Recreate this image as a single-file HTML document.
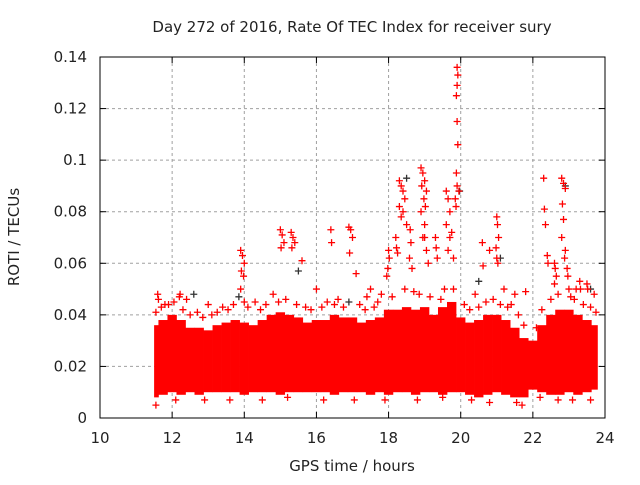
<!DOCTYPE html>
<html><head><meta charset="utf-8"><style>
body{margin:0;background:#fff}
svg text{font-family:"DejaVu Sans","Liberation Sans",sans-serif;fill:#222}
</style></head><body>
<svg id="c" width="640" height="480" xmlns="http://www.w3.org/2000/svg"></svg>
<script>
const xTicks=[10,12,14,16,18,20,22,24];
const yTicks=[0,0.02,0.04,0.06,0.08,0.1,0.12,0.14];
const yTickLabels=["0","0.02","0.04","0.06","0.08","0.1","0.12","0.14"];
const binTimes=[11.5,11.75,12,12.25,12.5,12.75,13,13.25,13.5,13.75,14,14.25,14.5,14.75,15,15.25,15.5,15.75,16,16.25,16.5,16.75,17,17.25,17.5,17.75,18,18.25,18.5,18.75,19,19.25,19.5,19.75,20,20.25,20.5,20.75,21,21.25,21.5,21.75,22,22.25,22.5,22.75,23,23.25,23.5,23.75];
const binHigh=[0.036,0.038,0.04,0.038,0.035,0.035,0.034,0.036,0.037,0.038,0.037,0.036,0.038,0.04,0.041,0.04,0.039,0.037,0.038,0.038,0.04,0.039,0.039,0.037,0.038,0.039,0.042,0.042,0.043,0.042,0.043,0.04,0.043,0.045,0.039,0.037,0.038,0.04,0.04,0.038,0.035,0.031,0.03,0.036,0.04,0.042,0.042,0.04,0.038,0.036];
const binLow=[0.008,0.009,0.01,0.009,0.01,0.009,0.01,0.01,0.01,0.01,0.009,0.01,0.01,0.01,0.009,0.01,0.01,0.01,0.01,0.01,0.009,0.01,0.01,0.01,0.009,0.01,0.009,0.01,0.01,0.009,0.01,0.01,0.009,0.01,0.01,0.009,0.008,0.009,0.01,0.009,0.008,0.008,0.011,0.01,0.009,0.009,0.01,0.009,0.01,0.011];
const ptTimes=[19.9,19.92,19.9,19.88,19.9,19.92,19.88,19.9,19.95,19.85,19.87,
18.3,18.35,18.4,18.45,18.3,18.4,18.35,18.5,
18.9,18.95,19.0,18.92,19.05,18.98,19.02,18.9,19.0,18.95,
19.6,19.65,19.7,19.6,19.75,19.7,19.65,19.8,
22.3,22.32,22.35,22.8,22.85,22.9,22.82,22.85,22.8,22.9,22.88,
13.9,13.95,14.0,13.92,13.98,13.9,14.0,
15.0,15.05,15.1,15.02,15.3,15.35,15.4,15.32,15.6,16.4,16.42,16.9,16.95,17.0,16.92,17.1,17.5,
18.0,18.02,17.98,17.95,18.2,18.22,18.25,18.6,18.62,18.58,18.65,19.3,19.32,19.35,19.0,19.05,19.1,
20.6,20.62,20.8,21.0,21.02,21.05,20.98,21.0,21.03,21.2,21.5,21.8,
22.4,22.42,22.6,22.62,22.65,22.6,22.95,22.97,23.0,23.3,23.32,23.5,23.52,23.7,
11.6,11.62,11.8,12.2,12.22,12.4,13.0,13.4,14.3,14.8,16.0,16.6,17.4,17.8,20.4,21.4,23.2,
11.55,11.7,11.9,12.05,12.3,12.5,12.7,12.85,13.1,13.25,13.55,13.7,14.1,14.45,14.6,14.95,15.15,15.45,15.7,15.85,16.15,16.3,16.5,16.75,17.2,17.35,17.6,17.7,18.1,18.45,18.7,18.85,19.15,19.45,19.55,19.8,20.1,20.25,20.5,20.7,20.9,21.1,21.3,21.6,21.75,22.1,22.25,22.5,22.7,23.05,23.15,23.4,23.6,23.75,
11.55,12.1,12.9,13.6,14.5,15.2,16.2,17.05,17.9,18.8,19.5,20.3,20.8,21.55,21.7,22.2,22.7,23.1,23.6];
const ptValues=[0.136,0.133,0.129,0.125,0.115,0.106,0.095,0.09,0.088,0.085,0.082,
0.092,0.09,0.088,0.085,0.082,0.08,0.078,0.075,
0.097,0.095,0.092,0.09,0.088,0.085,0.082,0.08,0.075,0.07,
0.088,0.085,0.08,0.075,0.072,0.07,0.065,0.062,
0.093,0.081,0.075,0.093,0.091,0.089,0.083,0.077,0.07,0.065,0.062,
0.065,0.063,0.06,0.057,0.055,0.05,0.045,
0.073,0.071,0.068,0.066,0.072,0.07,0.068,0.066,0.061,0.073,0.068,0.074,0.073,0.07,0.064,0.056,0.05,
0.065,0.062,0.058,0.055,0.07,0.066,0.064,0.073,0.068,0.062,0.058,0.07,0.066,0.062,0.07,0.065,0.06,
0.068,0.059,0.065,0.078,0.075,0.07,0.066,0.062,0.06,0.05,0.048,0.049,
0.063,0.06,0.06,0.058,0.055,0.052,0.058,0.055,0.05,0.053,0.05,0.052,0.05,0.048,
0.048,0.046,0.044,0.047,0.048,0.046,0.044,0.043,0.045,0.048,0.05,0.046,0.047,0.048,0.048,0.044,0.05,
0.041,0.043,0.044,0.045,0.042,0.04,0.041,0.039,0.04,0.041,0.042,0.044,0.043,0.042,0.044,0.045,0.046,0.044,0.043,0.042,0.043,0.045,0.044,0.043,0.044,0.042,0.043,0.045,0.047,0.05,0.049,0.048,0.047,0.046,0.05,0.05,0.044,0.042,0.043,0.045,0.046,0.044,0.043,0.04,0.036,0.035,0.042,0.046,0.048,0.047,0.046,0.044,0.043,0.041,
0.005,0.007,0.007,0.007,0.007,0.008,0.007,0.007,0.007,0.007,0.008,0.007,0.006,0.006,0.005,0.008,0.007,0.007,0.007];
const darkTimes=[19.97,18.5,22.9,13.85,20.5,21.1,16.9,15.5,12.6,23.6];
const darkValues=[0.088,0.093,0.09,0.047,0.053,0.062,0.045,0.057,0.048,0.05];

const NS="http://www.w3.org/2000/svg";
const svg=document.getElementById('c');
const L=100,R=605,T=57,B=418;
const X=v=>L+(v-10)/14*(R-L);
const Y=v=>B-v/0.14*(B-T);
function mk(tag,attrs,parent){const e=document.createElementNS(NS,tag);for(const k in attrs)e.setAttribute(k,attrs[k]);(parent||svg).appendChild(e);return e;}

const grid=mk('g',{});


xTicks.forEach(t=>{if(t>10&&t<24){mk('line',{x1:X(t),x2:X(t),y1:T,y2:B,stroke:'#a0a0a0','stroke-dasharray':'3,3','stroke-width':1},grid);}});
yTicks.forEach(t=>{if(t>0&&t<0.14){mk('line',{x1:L,x2:R,y1:Y(t),y2:Y(t),stroke:'#a0a0a0','stroke-dasharray':'3,3','stroke-width':1},grid);}});

const band=mk('g',{fill:'#ff0000'});


binTimes.forEach((t,i)=>{
  const a=Math.max(11.5,t-0.13),b=Math.min(23.8,t+0.13);
  const r=mk('rect',{x:X(a),y:Y(binHigh[i]),width:X(b)-X(a),height:Y(binLow[i])-Y(binHigh[i])},band);
  
  
});

function plus(g,t,v,col){
  const x=X(t),y=Y(v);
  return mk('path',{d:`M${x-3.5},${y}H${x+3.5}M${x},${y-3.5}V${y+3.5}`,stroke:col,'stroke-width':1.3,fill:'none'},g);
}
const dk=mk('g',{});


darkTimes.forEach((t,i)=>{const p=plus(dk,t,darkValues[i],'#333');
  
  });
const pts=mk('g',{});


ptTimes.forEach((t,i)=>{const p=plus(pts,t,ptValues[i],'#ff0000');
  
  });

const ax=mk('g',{});


mk('rect',{x:L,y:T,width:R-L,height:B-T,fill:'none',stroke:'#000','stroke-width':1},ax);
xTicks.forEach(t=>{
  mk('line',{x1:X(t),x2:X(t),y1:B,y2:B-6,stroke:'#000'},ax);
  mk('line',{x1:X(t),x2:X(t),y1:T,y2:T+6,stroke:'#000'},ax);
  const tx=mk('text',{x:X(t),y:443,'text-anchor':'middle','font-size':15},ax);
  tx.textContent=t;
  
  
});
yTicks.forEach((t,i)=>{
  mk('line',{x1:L,x2:L+6,y1:Y(t),y2:Y(t),stroke:'#000'},ax);
  mk('line',{x1:R,x2:R-6,y1:Y(t),y2:Y(t),stroke:'#000'},ax);
  const tx=mk('text',{x:87,y:Y(t)+5,'text-anchor':'end','font-size':15},ax);
  tx.textContent=yTickLabels[i];
  
  
});
const title=mk('text',{x:352,y:32,'text-anchor':'middle','font-size':15});
title.textContent='Day 272 of 2016, Rate Of TEC Index for receiver sury';


const xt=mk('text',{x:352,y:471,'text-anchor':'middle','font-size':15});
xt.textContent='GPS time / hours';


const yt=mk('text',{x:0,y:0,'text-anchor':'middle','font-size':15,transform:'translate(19,237) rotate(-90)'});
yt.textContent='ROTI / TECUs';


</script>
</body></html>
